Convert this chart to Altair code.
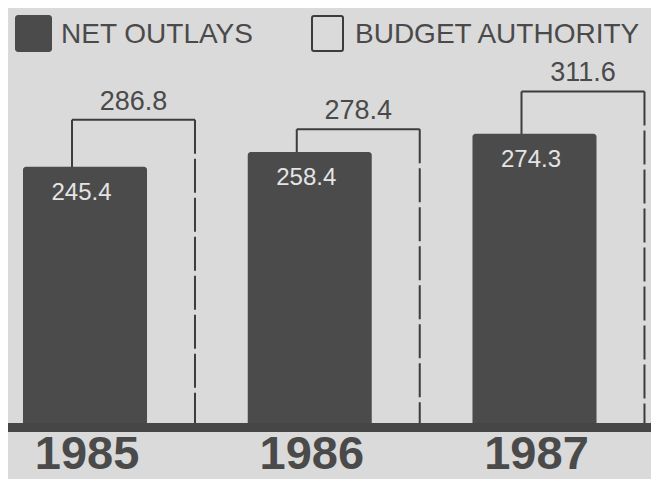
import altair as alt
import pandas as pd

years = [1985, 1986, 1987]
net_outlays = [245.4, 258.4, 274.3]
budget_authority = [286.8, 278.4, 311.6]
legend_labels = ["NET OUTLAYS", "BUDGET AUTHORITY"]

BG = "#dadada"
DARK = "#4b4b4b"
INK = "#4a4a4a"
LINE = "#3c3c3c"

W, H = 643, 471
xs = alt.Scale(domain=[1984.6574, 1987.5184], nice=False, zero=False)
ys = alt.Scale(domain=[-29.25, 385], nice=False, zero=False)

df = pd.DataFrame({"year": years, "outlays": net_outlays, "budget": budget_authority})

base = alt.Chart(df).transform_calculate(
    bl="datum.year - 0.2759",
    br="datum.year + 0.2759",
    kl="datum.year - 0.0578",
    kr="datum.year + 0.4894",
    kc="datum.year + 0.2158",
    ic="datum.year - 0.0156",
    tx="datum.year + 0.009",
    zero="20",
    zb="12.08",
    ylab="'' + datum.year",
)

X = lambda f: alt.X(f, scale=xs, axis=None)
Y = lambda f: alt.Y(f, scale=ys, axis=None)

box_top = base.mark_rule(color=LINE, strokeWidth=2).encode(
    x=X("kl:Q"), x2="kr:Q", y=Y("budget:Q"))
box_left = base.mark_rule(color=LINE, strokeWidth=2).encode(
    x=X("kl:Q"), y=Y("budget:Q"), y2="zero:Q")
box_right = base.mark_rule(color=LINE, strokeWidth=2, strokeDash=[34, 5]).encode(
    x=X("kr:Q"), y=Y("budget:Q"), y2="zero:Q")

bars = base.mark_rect(color=DARK, cornerRadiusTopLeft=3, cornerRadiusTopRight=3).encode(
    x=X("bl:Q"), x2="br:Q", y=Y("outlays:Q"), y2="zero:Q")

baseline = base.mark_rect(color="#464646").encode(
    x=alt.value(0), x2=alt.value(W), y=Y("zero:Q"), y2="zb:Q")

budget_lbl = base.mark_text(
    font="Liberation Sans, Arial, sans-serif", fontSize=27, color=INK,
    baseline="alphabetic", align="center", dy=-10,
).encode(x=X("kc:Q"), y=Y("budget:Q"), text=alt.Text("budget:Q", format=".1f"))

outlay_lbl = base.mark_text(
    font="Liberation Sans, Arial, sans-serif", fontSize=24, color="#e4e4e4",
    baseline="alphabetic", align="center", dy=33,
).encode(x=X("ic:Q"), y=Y("outlays:Q"), text=alt.Text("outlays:Q", format=".1f"))

year_lbl = base.mark_text(
    font="Liberation Sans Narrow, Arial Narrow, Liberation Sans, sans-serif",
    fontSize=47, fontWeight="bold", color=INK, baseline="alphabetic", align="center",
).encode(x=X("tx:Q"), y=alt.value(461), text="ylab:N")

leg_df = pd.DataFrame({"label": legend_labels})
leg1 = alt.Chart(leg_df).transform_filter(f"datum.label == '{legend_labels[0]}'")
leg2 = alt.Chart(leg_df).transform_filter(f"datum.label == '{legend_labels[1]}'")

leg_sq1 = leg1.mark_rect(color=DARK, cornerRadius=3).encode(
    x=alt.value(7), x2=alt.value(44), y=alt.value(7), y2=alt.value(44))
leg_sq2 = leg2.mark_rect(fill=BG, stroke=LINE, strokeWidth=2, cornerRadius=2).encode(
    x=alt.value(304), x2=alt.value(335), y=alt.value(8), y2=alt.value(43))
leg_t1 = leg1.mark_text(
    font="Liberation Sans, Arial, sans-serif", fontSize=28, color=INK,
    align="left", baseline="alphabetic").encode(
    x=alt.value(53), y=alt.value(35), text="label:N")
leg_t2 = leg2.mark_text(
    font="Liberation Sans, Arial, sans-serif", fontSize=28, color=INK,
    align="left", baseline="alphabetic").encode(
    x=alt.value(347), y=alt.value(35), text="label:N")

chart = alt.layer(
    box_top, box_left, box_right, bars, baseline, budget_lbl, outlay_lbl, year_lbl,
    leg_sq1, leg_sq2, leg_t1, leg_t2,
).properties(
    width=W, height=H, background=BG, padding=0, autosize=alt.AutoSizeParams(type="none"),
).configure_view(stroke=None)

chart.save("out.html", embed_options={"renderer": "svg", "actions": False})
